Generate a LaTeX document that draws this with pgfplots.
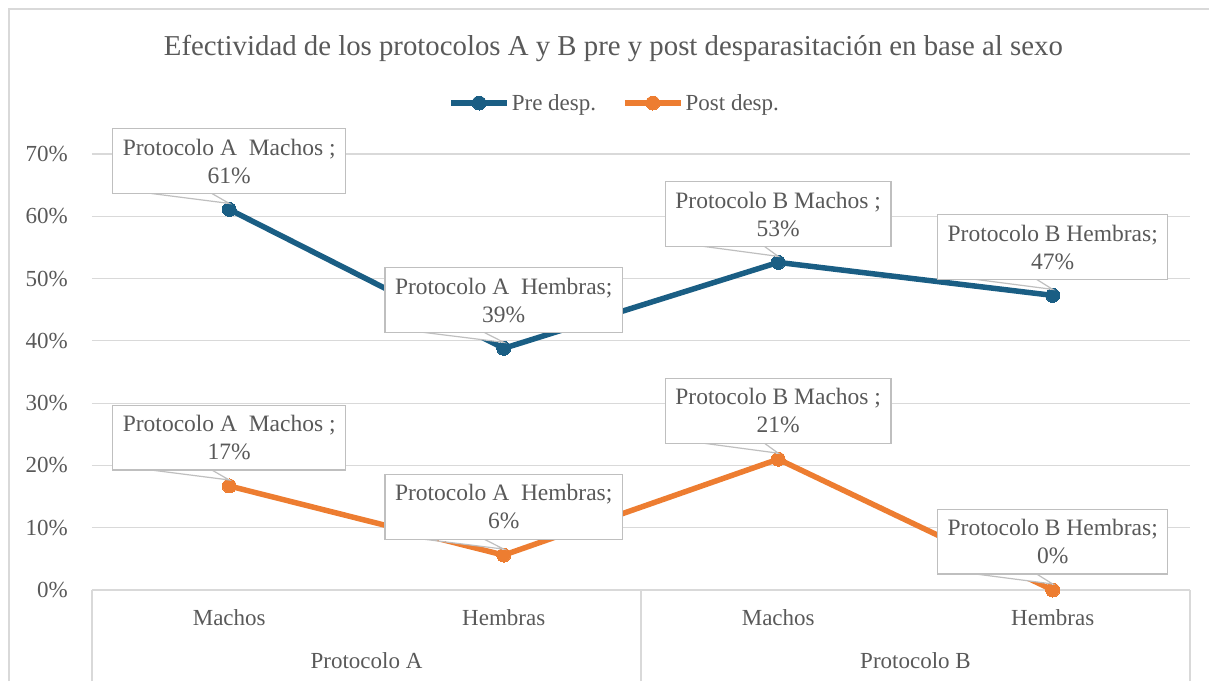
\documentclass[border=0pt]{standalone}
\usepackage{pgfplots}
\pgfplotsset{compat=1.18}
\usepackage{fontspec}
\setmainfont{Liberation Serif}
\definecolor{preblue}{HTML}{1A5E84}
\definecolor{postorange}{HTML}{ED7D31}
\definecolor{gridgray}{HTML}{D9D9D9}
\definecolor{txtgray}{HTML}{595959}
\definecolor{boxgray}{HTML}{BFBFBF}
\newcommand{\lbl}[1]{\ifcase#1 Protocolo A\ \ Machos ;\or Protocolo A\ \ Hembras;\or Protocolo B Machos ;\or Protocolo B Hembras;\fi}
\pgfplotsset{
  callout label/.style={
    nodes near coords={\lbl{\idx}\\\pgfmathprintnumber[fixed,precision=0,assume math mode=true]{\pgfplotspointmeta}\%},
    visualization depends on={value \coordindex \as \idx},
    every node near coord/.append style={
      anchor=south, yshift=16pt, align=center,
      font=\fontsize{23.5}{28}\selectfont, text=txtgray,
      fill=white, draw=boxgray, line width=1.2pt,
      inner xsep=10pt, inner ysep=10pt, outer sep=0pt,
      append after command={\pgfextra{\let\mynode=\tikzlastnode
        \begin{pgfinterruptpath}
        \fill[white] ([xshift=38pt,yshift=1.5pt]\mynode.south west) -- ([yshift=-10pt]\mynode.south) -- ([xshift=99pt,yshift=1.5pt]\mynode.south west) -- cycle;
        \draw[boxgray, line width=1.2pt] ([xshift=38pt]\mynode.south west) -- ([yshift=-10pt]\mynode.south) -- ([xshift=99pt]\mynode.south west);
        \end{pgfinterruptpath}}}
    }
  }
}
\begin{document}
\begin{tikzpicture}
\path[use as bounding box] (-92pt,-91pt) rectangle (1117pt,590pt);
\draw[gridgray, line width=1.2pt] (-83pt,-91pt) -- (-83pt,581pt) -- (1117pt,581pt);
\begin{axis}[
  at={(0pt,0pt)}, anchor=south west,
  scale only axis, width=1098pt, height=436pt,
  xmin=-0.5, xmax=3.5, ymin=0, ymax=70,
  clip=false,
  /pgf/number format/assume math mode=true,
  axis line style={draw=none},
  tick pos=left, tick align=outside,
  xtick={0,1,2,3},
  xticklabels={Machos,Hembras,Machos,Hembras},
  ytick={0,10,...,70},
  yticklabel={\pgfmathprintnumber[assume math mode=true]{\tick}\%},
  ymajorgrids, grid style={gridgray, line width=1.2pt},
  major tick length=0pt,
  tick label style={font=\fontsize{23}{27}\selectfont, text=txtgray},
  xticklabel style={anchor=center, yshift=-28pt},
  yticklabel style={anchor=east, inner sep=0pt, xshift=-24pt},
  extra x ticks={-0.5,1.5,3.5},
  extra x tick labels={},
  extra x tick style={major tick length=91pt, tick style={gridgray, line width=1.2pt}},
  title={Efectividad de los protocolos A y B pre y post desparasitación en base al sexo},
  title style={font=\fontsize{28.8}{32}\selectfont, text=txtgray, at={(axis description cs:0.4749,1)}, anchor=base, yshift=93pt},
  legend columns=2,
  legend style={draw=none, fill=none, font=\fontsize{23}{27}\selectfont, text=txtgray,
    at={(axis description cs:0.476,1)}, anchor=center, yshift=51pt,
    /tikz/every even column/.append style={column sep=24pt}},
  legend image code/.code={\draw[mark repeat=2, mark phase=2, #1] plot coordinates {(0pt,0pt) (28pt,0pt) (56pt,0pt)};},
]
\addplot[preblue, line width=5.5pt, mark=*, mark size=7pt, mark options={solid, fill=preblue, draw=preblue, line width=0pt}, callout label]
  coordinates {(0,61.1) (1,38.8) (2,52.6) (3,47.3)};
\addlegendentry{Pre desp.}
\addplot[postorange, line width=5.5pt, mark=*, mark size=7pt, mark options={solid, fill=postorange, draw=postorange, line width=0pt}, callout label]
  coordinates {(0,16.7) (1,5.6) (2,21.0) (3,0)};
\addlegendentry{Post desp.}
\node[font=\fontsize{23}{27}\selectfont, text=txtgray] at (axis cs:0.5,0) [yshift=-71pt] {Protocolo A};
\node[font=\fontsize{23}{27}\selectfont, text=txtgray] at (axis cs:2.5,0) [yshift=-71pt] {Protocolo B};
\end{axis}
\end{tikzpicture}
\end{document}
